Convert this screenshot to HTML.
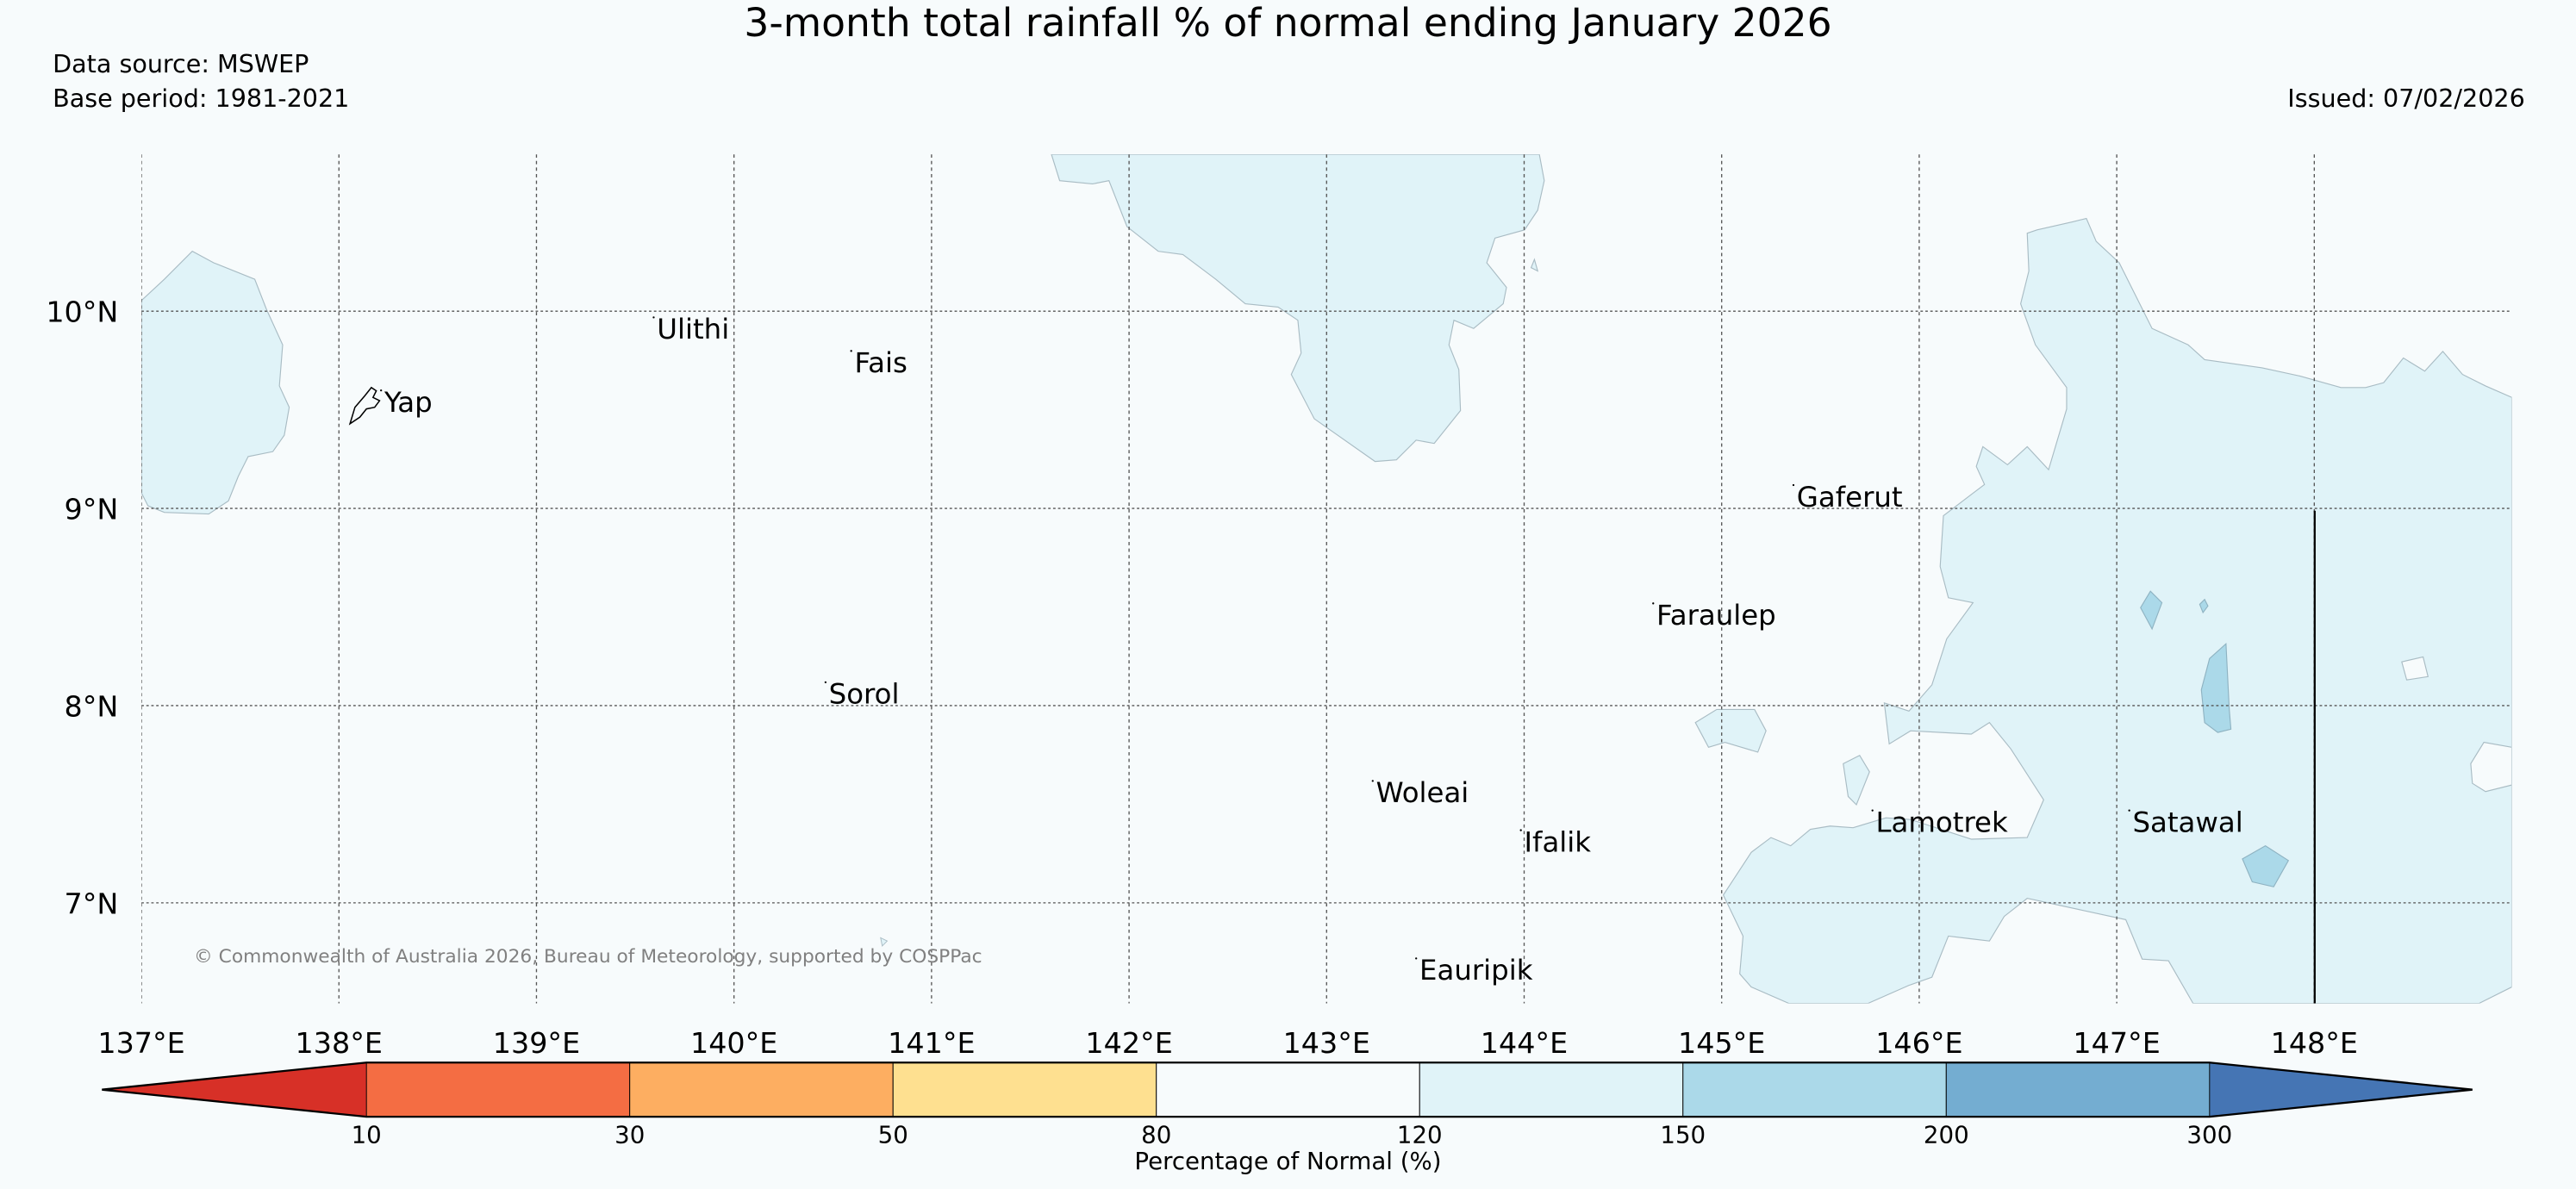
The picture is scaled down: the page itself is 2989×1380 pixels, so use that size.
<!DOCTYPE html>
<html><head><meta charset="utf-8"><style>
html,body{margin:0;padding:0;background:#f7fbfc;}
svg{display:block;font-family:"DejaVu Sans","Liberation Sans",sans-serif;}
</style></head><body>
<svg id="chart" width="2989" height="1380" viewBox="0 0 1568 724" xmlns="http://www.w3.org/2000/svg">
<rect width="1568" height="724" fill="#f7fbfc"/>
<text x="784" y="22" font-size="23.9" text-anchor="middle">3-month total rainfall % of normal ending January 2026</text>
<text x="32" y="44" font-size="15">Data source: MSWEP</text>
<text x="32" y="65" font-size="15">Base period: 1981-2021</text>
<text x="1537" y="65" font-size="15" text-anchor="end">Issued: 07/02/2026</text>
<defs><clipPath id="mapclip"><rect x="86" y="94" width="1443" height="517"/></clipPath></defs>
<g id="map" clip-path="url(#mapclip)">
<g fill="#e0f3f8" stroke="#a9bcc4" stroke-width="0.6">
<polygon points="86,183 100,170 117,153 130,160 155,170 162,188 172,210 170,235 176,248 173,265 166,275 151,278 145,290 139,305 127,313 100,312 90,308 86,300"/>
<polygon points="640,94 645,110 665,112 675,110 686,138 705,153 720,155 740,170 758,185 778,187 790,195 792,215 786,228 800,255 837,281 850,280 862,268 873,270 889,250 888,225 882,210 885,195 897,200 915,185 917,175 905,160 910,145 928,140 936,128 940,110 937,94"/>
<polygon points="1529,242 1513,235 1499,228 1487,214 1476,226 1463,218 1451,233 1440,236 1425,236 1400,229 1377,224 1342,219 1332,210 1310,200 1290,160 1276,147 1270,133 1262,135 1240,140 1234,142 1235,165 1230,185 1239,210 1258,236 1258,249 1247,286 1234,272 1222,283 1207,272 1203,284 1208,295 1183,314 1181,345 1186,364 1201,367 1185,389 1176,417 1162,433 1147,428 1150,453 1163,445 1200,447 1211,440 1224,456 1244,487 1234,510 1200,511 1163,499 1148,498 1128,504 1114,503 1102,505 1090,515 1078,510 1066,519 1049,545 1061,570 1059,593 1066,601 1089,611 1137,611 1162,600 1176,595 1186,570 1211,573 1220,558 1234,547 1294,560 1304,584 1320,585 1335,611 1509,611 1529,601"/>
<polygon points="1032,440 1045,432 1068,432 1075,445 1070,458 1050,452 1040,455"/>
<polygon points="1122,465 1132,460 1138,470 1130,490 1125,485"/>
<polygon points="932,163 934,158 936,165"/>
</g>
<g fill="#f7fbfc" stroke="#a9bcc4" stroke-width="0.6">
<polygon points="1462,403 1475,400 1478,412 1465,414"/>
<polygon points="1529,455 1512,452 1504,465 1505,477 1513,482 1529,478"/>
</g>
<g fill="#abd9e9" stroke="#8fb3c2" stroke-width="0.6">
<polygon points="1345,401 1355,392 1357,432 1358,444 1350,446 1342,440 1340,420"/>
<polygon points="1303,370 1309,360 1316,367 1310,383"/>
<polygon points="1365,523 1379,515 1393,524 1384,540 1371,537"/>
<polygon points="1339,368 1342,365 1344,369 1341,373"/>
</g>
<g id="grid"></g>
<line x1="1409" y1="311" x2="1409" y2="611" stroke="#000" stroke-width="1.2"/>
<path d="M213,258 L216,248 L222,241 L226,236 L229,238 L227,242 L231,244 L228,248 L223,249 L219,254 Z" fill="none" stroke="#000" stroke-width="0.8"/>
<polygon points="536,571 540,573 537,576" fill="#e0f3f8" stroke="#a9bcc4" stroke-width="0.5"/>
<g id="places" font-size="17"></g>
<text x="118" y="586" font-size="11.4" fill="#808080">© Commonwealth of Australia 2026, Bureau of Meteorology, supported by COSPPac</text>
</g>
<g id="axes"></g>
<g id="cbar"></g>
<text x="784" y="712" font-size="14.5" text-anchor="middle">Percentage of Normal (%)</text>
</svg>
<script>
const lonTicks=[137,138,139,140,141,142,143,144,145,146,147,148];
const latTicks=[7,8,9,10];
const placeNames=["Ulithi","Fais","Yap","Gaferut","Faraulep","Sorol","Woleai","Ifalik","Lamotrek","Satawal","Eauripik"];
const placeLons=[139.61,140.61,138.23,145.38,144.67,140.48,143.25,144.0,145.78,147.08,143.47];
const placeLats=[9.91,9.74,9.54,9.06,8.46,8.06,7.56,7.31,7.41,7.41,6.66];
const cbBounds=[10,30,50,80,120,150,200,300];
const cbColors=["#f46d43","#fdae61","#fee090","#f7fbfc","#e0f3f8","#abd9e9","#74add1"];
const cbUnder="#d73027", cbOver="#4575b4";
const NS="http://www.w3.org/2000/svg";
const X0=86,Y0=94,W=1443,H=517,LON0=137,LON1=149,LAT0=6.49,LAT1=10.795;
function px(lon){return X0+(lon-LON0)/(LON1-LON0)*W;}
function py(lat){return Y0+(LAT1-lat)/(LAT1-LAT0)*H;}
function mk(tag,attrs,parent){const e=document.createElementNS(NS,tag);for(const k in attrs)e.setAttribute(k,attrs[k]);parent.appendChild(e);return e;}
const grid=document.getElementById('grid'),axes=document.getElementById('axes');
lonTicks.forEach(l=>{
 const ln=mk('line',{x1:px(l),x2:px(l),y1:Y0,y2:Y0+H,stroke:'#555','stroke-width':0.7,'stroke-dasharray':'2,2'},grid);
 
 
 const t=mk('text',{x:px(l),y:641,'font-size':17.5,'text-anchor':'middle'},axes);t.textContent=l+'°E';
 
 
});
latTicks.forEach(l=>{
 const ln=mk('line',{x1:X0,x2:X0+W,y1:py(l),y2:py(l),stroke:'#555','stroke-width':0.7,'stroke-dasharray':'1.5,1.5'},grid);
 
 
 const t=mk('text',{x:72,y:py(l)+6.5,'font-size':17.5,'text-anchor':'end'},axes);t.textContent=l+'°N';
 
 
});
const places=document.getElementById('places');
placeNames.forEach((n,i)=>{
 const t=mk('text',{x:px(placeLons[i]),y:py(placeLats[i])+6},places);t.textContent=n;
 
 
 const d=mk('circle',{cx:px(placeLons[i])-2,cy:py(placeLats[i])-7,r:0.6,fill:'#000'},places);
 
 
});
const cb=document.getElementById('cbar');
const CX0=223,CX1=1345,CY0=647,CY1=680,n=cbColors.length,sw=(CX1-CX0)/n;
const under=mk('polygon',{points:`62,${(CY0+CY1)/2} ${CX0},${CY0} ${CX0},${CY1}`,fill:cbUnder},cb);


const over=mk('polygon',{points:`${CX1},${CY0} 1505,${(CY0+CY1)/2} ${CX1},${CY1}`,fill:cbOver},cb);


cbColors.forEach((c,i)=>{
 const r=mk('rect',{x:CX0+i*sw,y:CY0,width:sw,height:CY1-CY0,fill:c,stroke:'#000','stroke-width':0.5},cb);
 
 
});
const outline=mk('polygon',{points:`62,${(CY0+CY1)/2} ${CX0},${CY0} ${CX1},${CY0} 1505,${(CY0+CY1)/2} ${CX1},${CY1} ${CX0},${CY1}`,fill:'none',stroke:'#000','stroke-width':1.2},cb);


cbBounds.forEach((b,i)=>{
 const t=mk('text',{x:CX0+i*sw,y:696,'font-size':14.5,'text-anchor':'middle'},cb);t.textContent=b;
 
 
});
</script>
</body></html>
